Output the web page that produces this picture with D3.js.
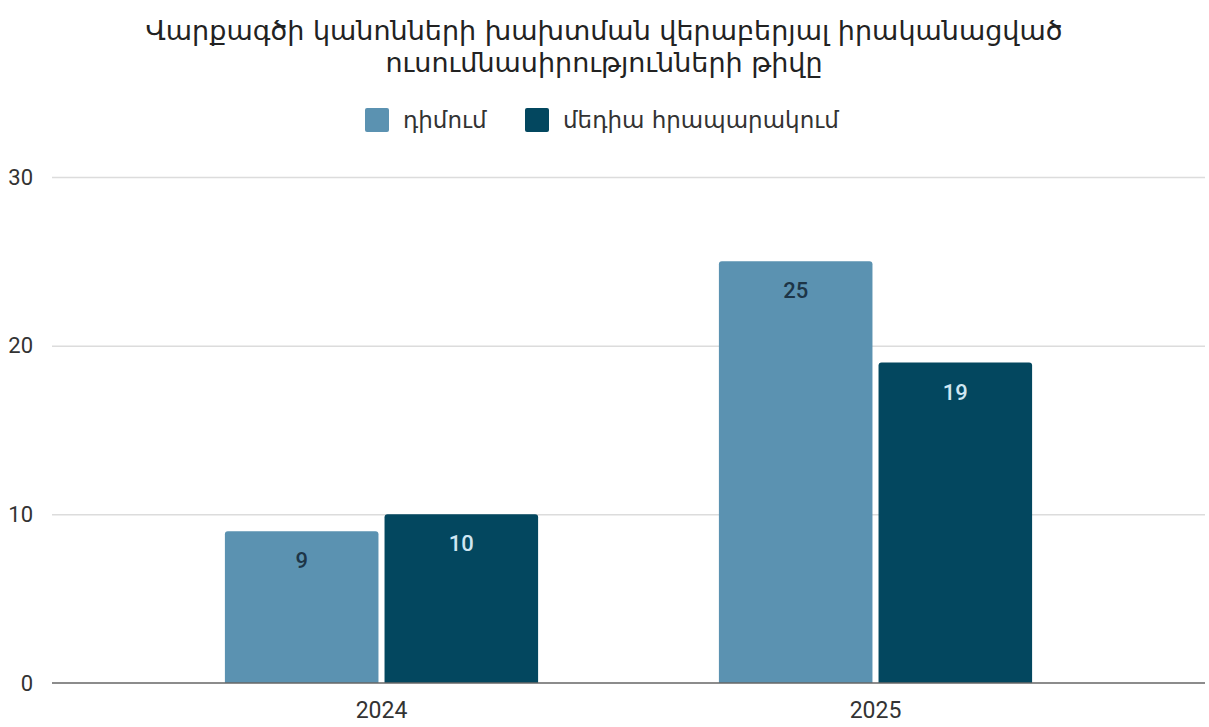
<!DOCTYPE html>
<html>
<head>
<meta charset="utf-8">
<script src="https://cdn.jsdelivr.net/npm/d3@7"></script>
<style>
  body { margin: 0; background: #fff; }
  text { font-family: "DejaVu Sans", sans-serif; }
  .yticks text, .xticks text, .barTxt { font-family: Roboto, "Liberation Sans", sans-serif; }
</style>
</head>
<body>
<div id="chart"></div>
<script>
// chart data
const years = ["2024", "2025"];
const seriesNames = ["դիմում", "մեդիա հրապարակում"];
const applications = [9, 25];
const mediaPosts = [10, 19];
const yTicks = [0, 10, 20, 30];
const titleLines = ["Վարքագծի կանոնների խախտման վերաբերյալ իրականացված", "ուսումնասիրությունների թիվը"];

const colors = ["#5b92b1", "#03475f"];
const labelColors = ["#1d3547", "#cfe6f2"];

const W = 1209, H = 727;
const plotLeft = 52, plotRight = 1205, plotTop = 177, plotBottom = 683;

const rows = years.map((y, i) => ({ year: y, values: [applications[i], mediaPosts[i]] }));

const svg = d3.select("#chart").append("svg")
    .attr("width", W)
    .attr("height", H);

// title
svg.append("g").selectAll("text")
    .data(titleLines)
    .join("text")
    .attr("x", 604)
    .attr("y", (d, i) => 40 + i * 32)
    .attr("text-anchor", "middle")
    .attr("fill", "#222")
    .style("font-size", "27px")
    .text(d => d);

// legend
const legend = svg.append("g").attr("transform", "translate(365,108)");
const legX = [0, 160];
seriesNames.forEach((name, i) => {
    const g = legend.append("g").attr("transform", "translate(" + legX[i] + ",0)");
    g.append("rect")
        .attr("width", 24).attr("height", 24).attr("rx", 2)
        .attr("fill", colors[i]);
    g.append("text")
        .attr("x", 38).attr("y", 20)
        .attr("fill", "#333")
        .style("font-size", "23px")
        .text(name);
});

// scales
const y = d3.scaleLinear().domain([0, 30]).range([plotBottom, plotTop]);
const x0 = d3.scaleBand().domain(years).range([plotLeft, plotRight])
    .paddingInner(0.366).paddingOuter(0.35);
const x1 = d3.scaleBand().domain([0, 1]).range([0, x0.bandwidth()])
    .paddingInner(0.038);

// grid
svg.append("g")
    .attr("class", "grid")
    .attr("transform", "translate(" + plotLeft + ",0)")
    .call(d3.axisRight(y).tickValues(yTicks.slice(1)).tickSize(plotRight - plotLeft).tickFormat(""))
    .call(g => g.select(".domain").remove())
    .call(g => g.selectAll("line").attr("stroke", "#dcdcdc").attr("stroke-width", 1.5));

// y tick labels
svg.append("g")
    .attr("class", "yticks")
    .attr("transform", "translate(" + (plotLeft - 16) + ",0)")
    .call(d3.axisLeft(y).tickValues(yTicks).tickSize(0))
    .call(g => g.select(".domain").remove())
    .call(g => g.selectAll("text").attr("fill", "#333").style("font-size", "22px"));

// bars
const groups = svg.append("g").selectAll("g")
    .data(rows)
    .join("g")
    .attr("transform", d => "translate(" + x0(d.year) + ",0)");

const bar = groups.selectAll("g")
    .data(d => d.values.map((v, i) => ({ v: v, i: i })))
    .join("g");

bar.append("path")
    .attr("fill", d => colors[d.i])
    .attr("d", d => {
        const bx = x1(d.i), bw = x1.bandwidth(), by = y(d.v), r = 3;
        return "M" + bx + "," + plotBottom +
            "V" + (by + r) + "Q" + bx + "," + by + " " + (bx + r) + "," + by +
            "H" + (bx + bw - r) + "Q" + (bx + bw) + "," + by + " " + (bx + bw) + "," + (by + r) +
            "V" + plotBottom + "Z";
    });

bar.append("text")
    .attr("class", "barTxt")
    .attr("x", d => x1(d.i) + x1.bandwidth() / 2)
    .attr("y", d => y(d.v) + 37)
    .attr("text-anchor", "middle")
    .attr("fill", d => labelColors[d.i])
    .style("font-size", "22px")
    .style("font-weight", "500")
    .text(d => d.v);

// x axis
svg.append("g")
    .attr("class", "xticks")
    .attr("transform", "translate(0," + plotBottom + ")")
    .call(d3.axisBottom(x0).tickSize(0).tickPadding(19))
    .call(g => g.select(".domain").remove())
    .call(g => g.selectAll("text").attr("fill", "#333").style("font-size", "23px"));

svg.append("line")
    .attr("x1", plotLeft).attr("x2", plotRight)
    .attr("y1", y(0)).attr("y2", y(0))
    .attr("stroke", "#666").attr("stroke-width", 1.5);
</script>
</body>
</html>
